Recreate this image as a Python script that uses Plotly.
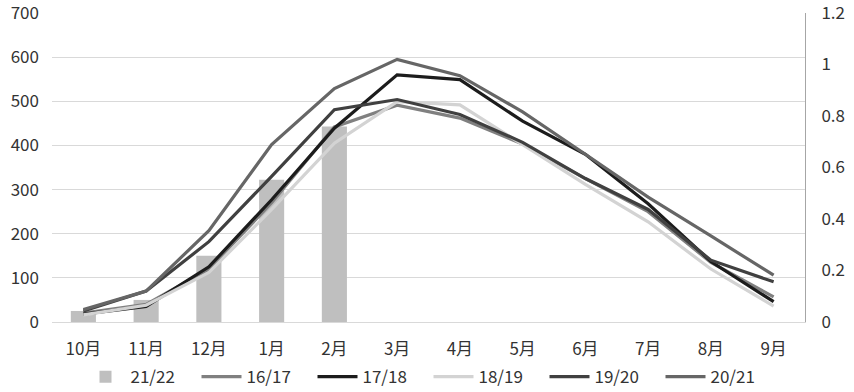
import plotly.graph_objects as go

months = ["10月", "11月", "12月", "1月", "2月", "3月", "4月", "5月", "6月", "7月", "8月", "9月"]

s2122 = [25, 50, 150, 322, 443]
s1617 = [20, 40, 120, 270, 442, 491, 462, 403, 325, 250, 135, 57]
s1718 = [18, 35, 125, 277, 439, 560, 549, 455, 380, 268, 137, 46]
s1819 = [16, 38, 112, 255, 405, 499, 492, 401, 312, 227, 120, 36]
s1920 = [25, 70, 182, 330, 481, 504, 470, 407, 325, 255, 140, 91]
s2021 = [28, 70, 207, 402, 529, 595, 558, 476, 380, 283, 195, 106]

font_family = "Noto Sans CJK SC, Noto Sans, sans-serif"
txt = "#333333"

fig = go.Figure()
fig.add_trace(go.Bar(x=months[:len(s2122)], y=s2122, name="21/22",
                     marker=dict(color="#bfbfbf", line=dict(width=0))))
lines = [
    ("16/17", s1617, "#808080"),
    ("17/18", s1718, "#1c1c1c"),
    ("18/19", s1819, "#d3d3d3"),
    ("19/20", s1920, "#404040"),
    ("20/21", s2021, "#666666"),
]
for name, vals, col in lines:
    fig.add_trace(go.Scatter(x=months, y=vals, name=name, mode="lines",
                             line=dict(color=col, width=3.2)))

# empty trace so the secondary (right) axis is drawn
fig.add_trace(go.Scatter(x=months, y=[None] * len(months), yaxis="y2",
                         showlegend=False, hoverinfo="skip", mode="lines"))

fig.update_layout(
    width=854, height=392,
    margin=dict(l=52, r=49, t=13, b=70, autoexpand=False),
    paper_bgcolor="white", plot_bgcolor="white",
    font=dict(family=font_family, size=17, color=txt),
    bargap=0.6,
    showlegend=True,
    legend=dict(orientation="h", x=0.5, xanchor="center", y=-0.12, yanchor="top",
                font=dict(size=17, color=txt), traceorder="normal",
                itemwidth=40, tracegroupgap=0, entrywidth=61),
    xaxis=dict(categoryorder="array", categoryarray=months,
               range=[-0.5, 11.5], automargin=False,
               showgrid=False, showline=True, linecolor="#d9d9d9", linewidth=1,
               ticks="", ticklabelstandoff=12, tickfont=dict(size=17, color=txt)),
    yaxis=dict(range=[0, 700], dtick=100, showgrid=True, gridcolor="#d9d9d9",
               gridwidth=1, zeroline=False, showline=False, ticks="",
               automargin=False, ticklabeloverflow="allow",
               ticklabelstandoff=12, tickfont=dict(size=17, color=txt)),
    yaxis2=dict(range=[0, 1.2], dtick=0.2, overlaying="y", side="right",
                showgrid=False, zeroline=False, showline=True, linecolor="#a6a6a6",
                linewidth=1, ticks="", ticklabelstandoff=12,
                automargin=False, ticklabeloverflow="allow",
                tickfont=dict(size=17, color=txt)),
)

fig.write_html("out.html", config={"displayModeBar": False},
               post_script="document.body.style.margin='0';document.body.style.overflow='hidden';")
